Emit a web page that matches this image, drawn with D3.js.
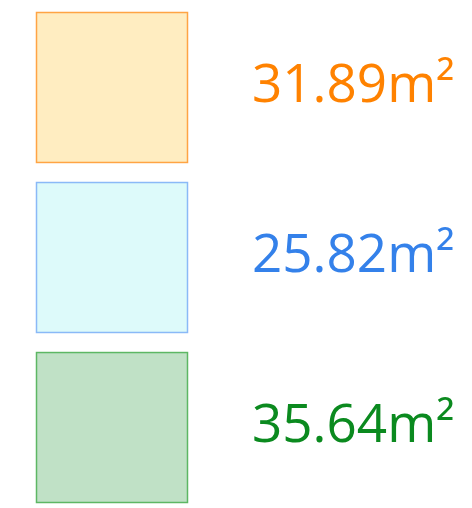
<!DOCTYPE html>
<html><head><meta charset="utf-8">
<script src="https://cdn.jsdelivr.net/npm/d3@7"></script>
<style>html,body{margin:0;padding:0;background:#fff;}</style>
</head><body>
<script>
const categories = ["A", "B", "C"];
const values = [31.89, 25.82, 35.64];
const unit = "m²";
const textColors = ["#ff8200", "#3481ea", "#0b8a1f"];
const fillColors = ["#ffedc1", "#ddfafa", "#c0e1c6"];
const strokeColors = ["#ffa444", "#8ab9f7", "#5db764"];

const W = 472, H = 508;
const svg = d3.select("body").append("svg").attr("width", W).attr("height", H);

const y = d3.scaleBand().domain(categories).range([12, 503]).paddingInner(0.112).paddingOuter(0);
const bw = y.bandwidth();

const g = svg.selectAll("g.item").data(categories).join("g").attr("class", "item");
g.append("rect")
  .attr("x", 36.5)
  .attr("y", d => y(d) + 0.5)
  .attr("width", 151)
  .attr("height", bw - 1)
  .attr("fill", (d, i) => fillColors[i])
  .attr("stroke", (d, i) => strokeColors[i])
  .attr("stroke-width", 1.5);

g.append("text")
  .attr("x", 252)
  .attr("y", (d, i) => y(d) + bw / 2 + 14.5)
  .attr("fill", (d, i) => textColors[i])
  .attr("font-family", "'Open Sans', 'Noto Sans', sans-serif")
  .attr("font-size", 53)
  .text((d, i) => values[i].toFixed(2) + unit);
</script>
</body></html>
